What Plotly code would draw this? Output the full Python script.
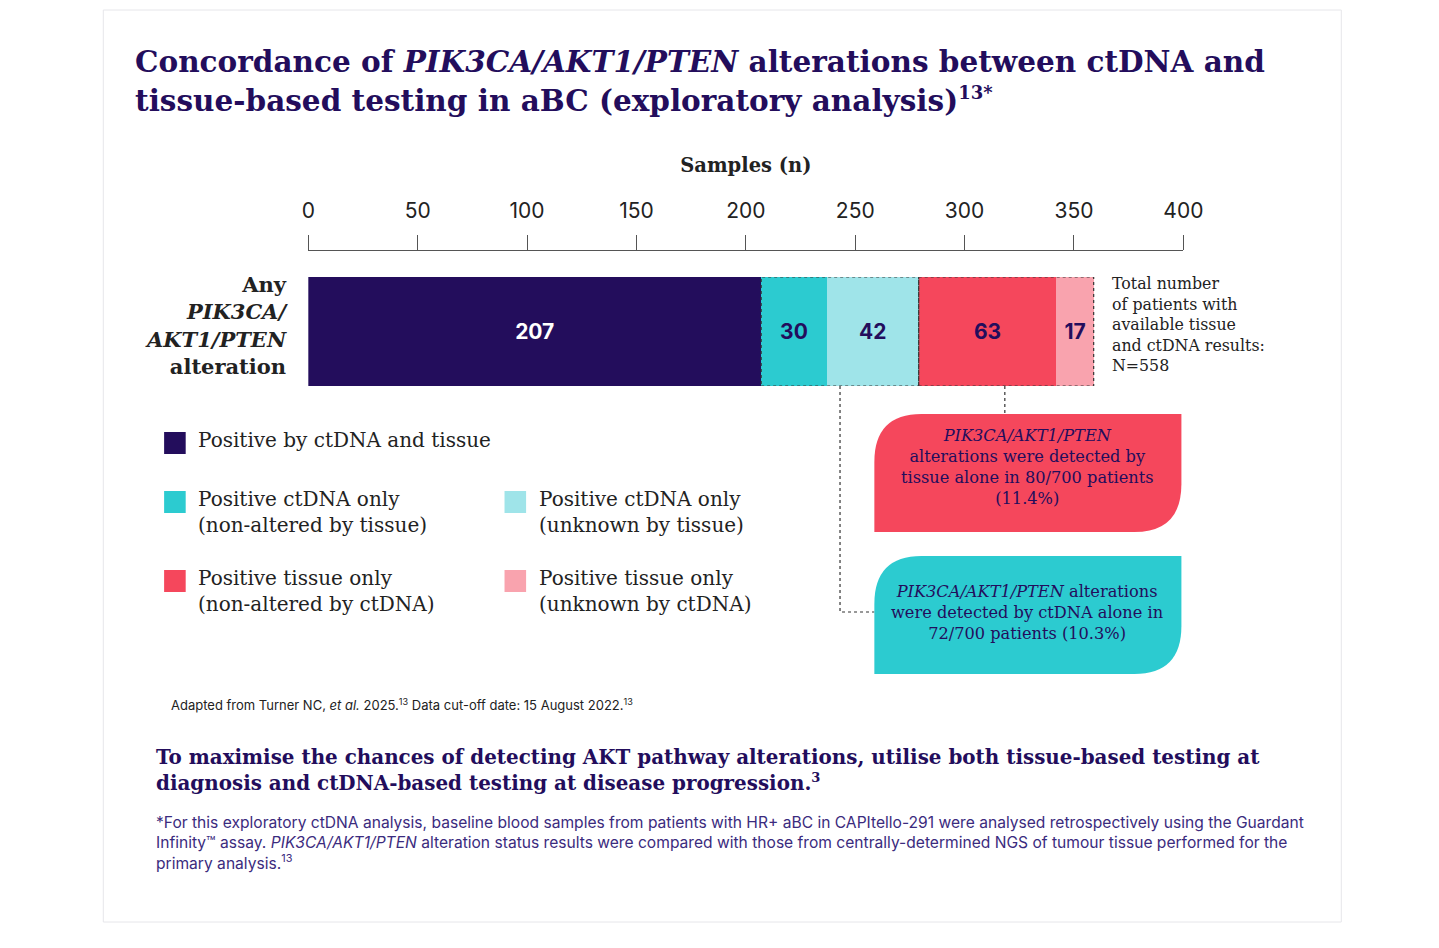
import plotly.graph_objects as go

W, H = 1421, 930
categories = ["Any"]
seg_names = ["Positive by ctDNA and tissue", "Positive ctDNA only (non-altered by tissue)",
             "Positive ctDNA only (unknown by tissue)", "Positive tissue only (non-altered by ctDNA)",
             "Positive tissue only (unknown by ctDNA)"]
seg_values = [207, 30, 42, 63, 17]
seg_colors = ["#230d5c", "#2ccbd0", "#9fe4e9", "#f5475c", "#f9a3ae"]
label_colors = ["white", "#230d5c", "#230d5c", "#230d5c", "#230d5c"]
ticks = [0, 50, 100, 150, 200, 250, 300, 350, 400]

PURPLE = "#230d5c"
SERIF = "DejaVu Serif"
SANS = "Inter, Roboto, sans-serif"

def X(px): return (px - 8) / W
def Y(py): return 1 - (py - 8) / H

fig = go.Figure()
for n, v, c, lc in zip(seg_names, seg_values, seg_colors, label_colors):
    fig.add_trace(go.Bar(y=categories, x=[v], orientation="h", marker=dict(color=c, line=dict(width=0)),
                         width=1, name=n, text=[str(v)], textposition="inside", insidetextanchor="middle",
                         textfont=dict(color=lc, size=21, family="Inter, sans-serif", weight="bold"),
                         showlegend=False, hoverinfo="skip"))

fig.update_layout(
    width=W, height=H, margin=dict(l=0, r=0, t=0, b=0), barmode="stack",
    paper_bgcolor="white", plot_bgcolor="rgba(0,0,0,0)",
    xaxis=dict(domain=[X(307), X(1199)], range=[0, 400], side="top", anchor="free", position=Y(250),
               tickvals=ticks, ticks="outside", ticklen=15, tickcolor="#555", showline=True,
               linecolor="#555", showgrid=False, zeroline=False, ticklabelstandoff=9,
               tickfont=dict(family=SANS, size=21, color="#222"),
               title=dict(text="<b>Samples (n)</b>", font=dict(family=SERIF, size=19.5, color="#222"), standoff=18)),
    yaxis=dict(domain=[Y(386), Y(277)], range=[-0.5, 0.5], visible=False),
)

shapes = []
shapes.append(dict(type="rect", xref="paper", yref="paper", x0=X(98), x1=X(1360), y0=Y(922), y1=Y(10),
                   line=dict(color="#e6e6ea", width=1), fillcolor="rgba(0,0,0,0)", layer="below"))
cum = [0]
for v in seg_values: cum.append(cum[-1] + v)
for a, b in [(cum[1], cum[3]), (cum[3], cum[5])]:
    shapes.append(dict(type="rect", xref="x", yref="y", x0=a, x1=b, y0=-0.5, y1=0.5,
                       line=dict(color="#333", width=1.2, dash="dot")))
shapes.append(dict(type="path", xref="paper", yref="paper",
                   path=f"M {X(849)} {Y(386)} L {X(849)} {Y(612)} L {X(884)} {Y(612)}",
                   line=dict(color="#333", width=1.2, dash="dot")))
shapes.append(dict(type="line", xref="paper", yref="paper", x0=X(1017), x1=X(1017), y0=Y(386), y1=Y(414),
                   line=dict(color="#333", width=1.2, dash="dot")))

def callout(l, t, r, b, rad, color):
    p = (f"M {X(l)} {Y(t+rad)} Q {X(l)} {Y(t)} {X(l+rad)} {Y(t)} L {X(r)} {Y(t)} L {X(r)} {Y(b-rad)} "
         f"Q {X(r)} {Y(b)} {X(r-rad)} {Y(b)} L {X(l)} {Y(b)} Z")
    return dict(type="path", xref="paper", yref="paper", path=p, fillcolor=color, line=dict(width=0))
shapes.append(callout(884, 414, 1197, 532, 48, "#f5475c"))
shapes.append(callout(884, 556, 1197, 674, 48, "#2ccbd0"))

leg = [(160, 443, 0, "Positive by ctDNA and tissue"),
       (160, 502, 1, "Positive ctDNA only<br>(non-altered by tissue)"),
       (507, 502, 2, "Positive ctDNA only<br>(unknown by tissue)"),
       (160, 581, 3, "Positive tissue only<br>(non-altered by ctDNA)"),
       (507, 581, 4, "Positive tissue only<br>(unknown by ctDNA)")]
for lx, ly, i, t in leg:
    shapes.append(dict(type="rect", xref="paper", yref="paper", x0=X(lx), x1=X(lx+22), y0=Y(ly+11), y1=Y(ly-11),
                       fillcolor=seg_colors[i], line=dict(width=0)))
fig.update_layout(shapes=shapes)

def A(x, y, text, size, color="#222", family=SERIF, xanchor="left", yanchor="top", align="left"):
    fig.add_annotation(x=X(x), y=Y(y), xref="paper", yref="paper", text=text, showarrow=False,
                       xanchor=xanchor, yanchor=yanchor, align=align,
                       font=dict(size=size, color=color, family=family))

for lx, ly, i, t in leg:
    A(lx + 33, ly - 17, t, 20, "#222")

A(128, 42, "<b>Concordance of <i>PIK3CA/AKT1/PTEN</i> alterations between ctDNA and</b>", 29.5, PURPLE)
A(128, 80, "<b>tissue-based testing in aBC (exploratory analysis)<sup><span style='font-size:18px'>13*</span></sup></b>", 29.5, PURPLE)
A(288, 270, "<b>Any<br><i>PIK3CA/</i><br><i>AKT1/PTEN</i><br>alteration</b>", 21, "#222",
  xanchor="right", align="right")
A(1124, 272, "Total number<br>of patients with<br>available tissue<br>and ctDNA results:<br>N=558", 15.8, "#222")
A(1040, 424, "<i>PIK3CA/AKT1/PTEN</i><br>alterations were detected by<br>tissue alone in 80/700 patients<br>(11.4%)",
  16.2, PURPLE, xanchor="center", align="center")
A(1040, 580, "<i>PIK3CA/AKT1/PTEN</i> alterations<br>were detected by ctDNA alone in<br>72/700 patients (10.3%)",
  16.2, PURPLE, xanchor="center", align="center")
A(165, 694, "Adapted from Turner NC, <i>et al.</i> 2025.<sup>13</sup> Data cut-off date: 15 August 2022.<sup>13</sup>",
  13, "#222", family=SANS)
A(150, 743, "<b>To maximise the chances of detecting AKT pathway alterations, utilise both tissue-based testing at<br>"
  "diagnosis and ctDNA-based testing at disease progression.<sup><span style='font-size:13px'>3</span></sup></b>", 19.9, PURPLE)
A(150, 811, "*For this exploratory ctDNA analysis, baseline blood samples from patients with HR+ aBC in CAPItello-291 were analysed retrospectively using the Guardant<br>"
  "Infinity™ assay. <i>PIK3CA/AKT1/PTEN</i> alteration status results were compared with those from centrally-determined NGS of tumour tissue performed for the<br>"
  "primary analysis.<sup>13</sup>", 15.6, "#3b2b7e", family=SANS)

fig.write_html("out.html")
